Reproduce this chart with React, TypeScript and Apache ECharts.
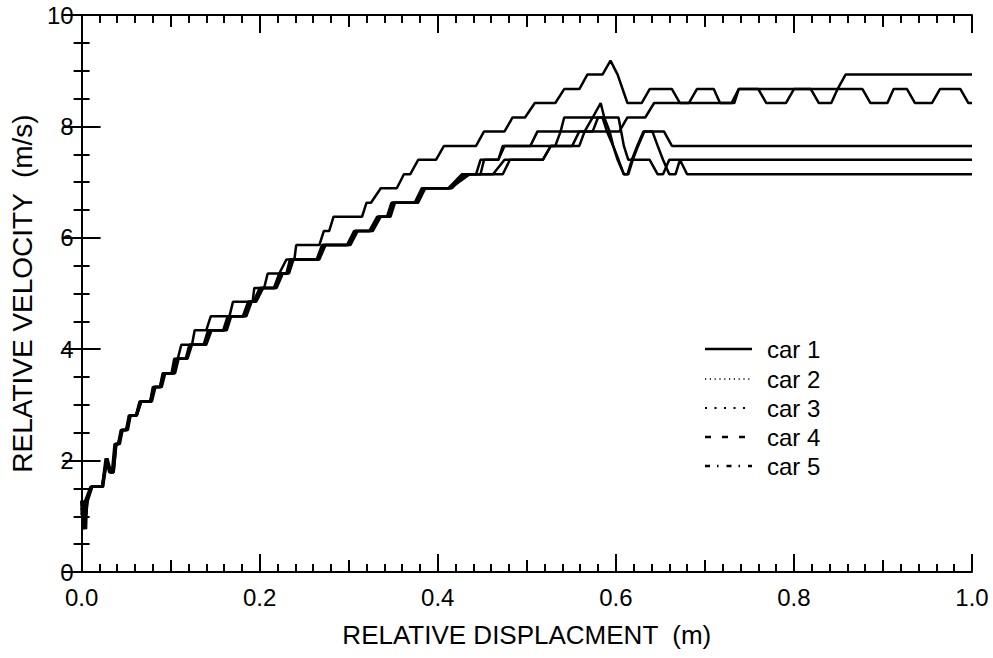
import React, { useEffect, useRef } from "react";
import * as echarts from "echarts";

const FONT = '"Liberation Sans", Arial, Helvetica, sans-serif';

const carNames = ["car 1", "car 2", "car 3", "car 4", "car 5"];
const xTickLabels = ["0.0", "0.2", "0.4", "0.6", "0.8", "1.0"];
const yTickLabels = ["0", "2", "4", "6", "8", "10"];

const car1: number[][] = [
  [0, 1.28], [0.002, 0.77], [0.004, 1.28], [0.010, 1.53], [0.023, 1.53], [0.027, 2.04], [0.031, 1.79], [0.034, 1.79],
  [0.037, 2.30], [0.041, 2.30], [0.044, 2.55], [0.050, 2.55], [0.053, 2.81], [0.061, 2.81], [0.065, 3.06], [0.077, 3.06],
  [0.080, 3.32], [0.088, 3.32], [0.091, 3.57], [0.101, 3.57], [0.104, 3.83], [0.108, 3.83], [0.112, 4.08], [0.124, 4.08],
  [0.127, 4.34], [0.140, 4.34], [0.145, 4.59], [0.166, 4.59], [0.170, 4.85], [0.192, 4.85], [0.194, 5.10], [0.205, 5.10],
  [0.209, 5.36], [0.222, 5.36], [0.230, 5.61], [0.239, 5.61], [0.241, 5.87], [0.267, 5.87], [0.272, 6.12], [0.278, 6.12],
  [0.283, 6.38], [0.315, 6.38], [0.320, 6.63], [0.325, 6.63], [0.336, 6.89], [0.354, 6.89], [0.362, 7.14], [0.369, 7.14],
  [0.378, 7.40], [0.398, 7.40], [0.407, 7.65], [0.443, 7.65], [0.452, 7.91], [0.475, 7.91], [0.484, 8.16], [0.498, 8.16],
  [0.509, 8.42], [0.532, 8.42], [0.542, 8.67], [0.559, 8.67], [0.568, 8.93], [0.585, 8.93], [0.594, 9.18], [0.602, 8.93],
  [0.613, 8.42], [0.629, 8.42], [0.638, 8.67], [0.663, 8.67], [0.672, 8.42], [0.682, 8.42], [0.691, 8.67], [0.710, 8.67],
  [0.717, 8.42], [0.730, 8.42], [0.738, 8.67], [0.760, 8.67], [0.769, 8.42], [0.791, 8.42], [0.800, 8.67], [0.819, 8.67],
  [0.828, 8.42], [0.842, 8.42], [0.849, 8.67], [0.877, 8.67], [0.886, 8.42], [0.905, 8.42], [0.912, 8.67], [0.927, 8.67],
  [0.936, 8.42], [0.955, 8.42], [0.964, 8.67], [0.987, 8.67], [0.996, 8.42], [1.0, 8.42],
];

const car2: number[][] = [
  [0, 1.02], [0.002, 1.28], [0.003, 0.77], [0.005, 1.28], [0.011, 1.53], [0.023, 1.53], [0.028, 2.04], [0.032, 1.79],
  [0.035, 1.79], [0.038, 2.30], [0.041, 2.30], [0.045, 2.55], [0.050, 2.55], [0.054, 2.81], [0.061, 2.81], [0.066, 3.06],
  [0.077, 3.06], [0.081, 3.32], [0.088, 3.32], [0.092, 3.57], [0.103, 3.57], [0.106, 3.83], [0.117, 3.83], [0.121, 4.08],
  [0.137, 4.08], [0.142, 4.34], [0.159, 4.34], [0.164, 4.59], [0.181, 4.59], [0.187, 4.85], [0.193, 4.85], [0.200, 5.10],
  [0.216, 5.10], [0.222, 5.36], [0.230, 5.36], [0.234, 5.61], [0.264, 5.61], [0.270, 5.87], [0.298, 5.87], [0.306, 6.12],
  [0.323, 6.12], [0.332, 6.38], [0.343, 6.38], [0.348, 6.63], [0.374, 6.63], [0.382, 6.89], [0.412, 6.89], [0.427, 7.14],
  [0.462, 7.14], [0.475, 7.40], [0.518, 7.40], [0.527, 7.65], [0.559, 7.65], [0.565, 7.91], [0.574, 8.16], [0.583, 8.42],
  [0.587, 8.16], [0.593, 7.91], [0.597, 7.65], [0.602, 7.40], [0.609, 7.14], [0.613, 7.14], [0.618, 7.40], [0.624, 7.65],
  [0.631, 7.91], [0.654, 7.91], [0.663, 7.65], [1.0, 7.65],
];

const car3: number[][] = [
  [0, 1.28], [0.001, 1.02], [0.003, 1.28], [0.004, 0.90], [0.006, 1.28], [0.011, 1.53], [0.024, 1.53], [0.028, 2.04],
  [0.033, 1.79], [0.036, 1.79], [0.039, 2.30], [0.042, 2.30], [0.046, 2.55], [0.051, 2.55], [0.055, 2.81], [0.062, 2.81],
  [0.067, 3.06], [0.078, 3.06], [0.082, 3.32], [0.089, 3.32], [0.093, 3.57], [0.104, 3.57], [0.108, 3.83], [0.118, 3.83],
  [0.123, 4.08], [0.139, 4.08], [0.144, 4.34], [0.161, 4.34], [0.166, 4.59], [0.183, 4.59], [0.189, 4.85], [0.195, 4.85],
  [0.202, 5.10], [0.218, 5.10], [0.224, 5.36], [0.231, 5.36], [0.236, 5.61], [0.266, 5.61], [0.272, 5.87], [0.300, 5.87],
  [0.308, 6.12], [0.325, 6.12], [0.334, 6.38], [0.345, 6.38], [0.350, 6.63], [0.376, 6.63], [0.384, 6.89], [0.414, 6.89],
  [0.436, 7.14], [0.448, 7.14], [0.452, 7.40], [0.468, 7.40], [0.475, 7.65], [0.532, 7.65], [0.538, 7.91], [0.542, 8.16],
  [0.603, 8.16], [0.606, 7.91], [0.609, 7.65], [0.614, 7.40], [0.638, 7.40], [0.647, 7.14], [0.653, 7.14], [0.660, 7.40],
  [1.0, 7.40],
];

const car4: number[][] = [
  [0, 1.15], [0.002, 0.77], [0.003, 1.28], [0.005, 1.02], [0.007, 1.28], [0.012, 1.53], [0.024, 1.53], [0.029, 2.04],
  [0.033, 1.79], [0.036, 1.79], [0.039, 2.30], [0.043, 2.30], [0.046, 2.55], [0.052, 2.55], [0.055, 2.81], [0.062, 2.81],
  [0.067, 3.06], [0.079, 3.06], [0.083, 3.32], [0.090, 3.32], [0.094, 3.57], [0.105, 3.57], [0.109, 3.83], [0.119, 3.83],
  [0.124, 4.08], [0.140, 4.08], [0.146, 4.34], [0.163, 4.34], [0.168, 4.59], [0.185, 4.59], [0.191, 4.85], [0.196, 4.85],
  [0.204, 5.10], [0.219, 5.10], [0.226, 5.36], [0.233, 5.36], [0.238, 5.61], [0.267, 5.61], [0.274, 5.87], [0.302, 5.87],
  [0.310, 6.12], [0.327, 6.12], [0.336, 6.38], [0.347, 6.38], [0.352, 6.63], [0.378, 6.63], [0.386, 6.89], [0.416, 6.89],
  [0.431, 7.14], [0.473, 7.14], [0.481, 7.40], [0.518, 7.40], [0.527, 7.65], [0.551, 7.65], [0.559, 7.91], [0.574, 7.91],
  [0.580, 8.16], [0.585, 8.16], [0.590, 7.91], [0.597, 7.65], [0.603, 7.40], [0.609, 7.14], [0.614, 7.14], [0.619, 7.40],
  [0.625, 7.65], [0.632, 7.91], [0.641, 7.91], [0.647, 7.65], [0.653, 7.40], [0.660, 7.14], [0.667, 7.14], [0.672, 7.40],
  [0.680, 7.14], [1.0, 7.14],
];

const car5: number[][] = [
  [0, 1.28], [0.001, 0.85], [0.003, 1.20], [0.005, 0.77], [0.006, 1.28], [0.011, 1.53], [0.023, 1.53], [0.028, 2.04],
  [0.032, 1.79], [0.035, 1.79], [0.038, 2.30], [0.042, 2.30], [0.045, 2.55], [0.051, 2.55], [0.054, 2.81], [0.062, 2.81],
  [0.066, 3.06], [0.078, 3.06], [0.082, 3.32], [0.089, 3.32], [0.093, 3.57], [0.104, 3.57], [0.107, 3.83], [0.118, 3.83],
  [0.122, 4.08], [0.138, 4.08], [0.143, 4.34], [0.160, 4.34], [0.165, 4.59], [0.182, 4.59], [0.188, 4.85], [0.194, 4.85],
  [0.201, 5.10], [0.217, 5.10], [0.223, 5.36], [0.231, 5.36], [0.235, 5.61], [0.265, 5.61], [0.271, 5.87], [0.299, 5.87],
  [0.307, 6.12], [0.324, 6.12], [0.333, 6.38], [0.344, 6.38], [0.349, 6.63], [0.375, 6.63], [0.383, 6.89], [0.413, 6.89],
  [0.429, 7.14], [0.443, 7.14], [0.448, 7.40], [0.468, 7.40], [0.473, 7.65], [0.504, 7.65], [0.512, 7.91], [0.604, 7.91],
  [0.613, 8.16], [0.633, 8.16], [0.643, 8.42], [0.733, 8.42], [0.738, 8.67], [0.849, 8.67], [0.858, 8.93], [1.0, 8.93],
];

const carData = [car1, car2, car3, car4, car5];
const legendDash: (number[] | null)[] = [null, [1.2, 3.6], [2, 7.5], [6, 11], [5, 7, 1.5, 8]];
const legendWidth = [2.5, 1.3, 2, 2.5, 2.5];
const legendRows = [349, 379, 408, 437, 466];

export default function App() {
  const ref = useRef<HTMLDivElement>(null);
  useEffect(() => {
    if (!ref.current) return;
    const chart = echarts.init(ref.current, undefined, { renderer: "svg" });
    const black = "#000";
    const lineSt = { color: black, width: 2 };
    const baseX = (pos: string, interval: number, tickLen: number, main: boolean, withLabels: boolean) => ({
      type: "value",
      position: pos,
      min: 0,
      max: 1,
      interval,
      axisLine: { show: main, lineStyle: lineSt },
      axisTick: { show: true, inside: true, length: tickLen, lineStyle: lineSt },
      minorTick: { show: main, splitNumber: 10, length: 8, lineStyle: lineSt },
      splitLine: { show: false },
      minorSplitLine: { show: false },
      axisLabel: {
        show: withLabels,
        color: black,
        fontSize: 24,
        fontFamily: FONT,
        margin: 13,
        formatter: (v: number) => xTickLabels[Math.round(v / 0.2)] ?? "",
      },
    });
    const baseY = (pos: string, withLabels: boolean) => ({
      type: "value",
      position: pos,
      min: 0,
      max: 10,
      interval: 2,
      axisLine: { show: true, lineStyle: lineSt },
      axisTick: { show: true, inside: true, length: 19, lineStyle: lineSt },
      minorTick: { show: true, splitNumber: 4, length: 8, lineStyle: lineSt },
      splitLine: { show: false },
      minorSplitLine: { show: false },
      axisLabel: {
        show: withLabels,
        color: black,
        fontSize: 24,
        fontFamily: FONT,
        margin: 8,
        formatter: (v: number) => yTickLabels[Math.round(v / 2)] ?? "",
      },
    });

    const xMain: any = baseX("bottom", 0.2, 18, true, true);
    xMain.name = "RELATIVE DISPLACMENT  (m)";
    xMain.nameLocation = "middle";
    xMain.nameGap = 50;
    xMain.nameTextStyle = { color: black, fontSize: 26, fontFamily: FONT };
    const yMain: any = baseY("left", true);
    yMain.name = "RELATIVE VELOCITY  (m/s)";
    yMain.nameLocation = "middle";
    yMain.nameGap = 42;
    yMain.nameTextStyle = { color: black, fontSize: 28, fontFamily: FONT };

    const graphics: any[] = [];
    carNames.forEach((n, i) => {
      graphics.push({
        type: "line",
        shape: { x1: 705, y1: legendRows[i], x2: 752, y2: legendRows[i] },
        style: { stroke: black, lineWidth: legendWidth[i], lineDash: legendDash[i] || undefined },
      });
      graphics.push({
        type: "text",
        x: 767,
        y: legendRows[i],
        style: { text: n, fontSize: 24, fontFamily: FONT, fill: black, verticalAlign: "middle", align: "left" },
      });
    });

    chart.setOption({
      animation: false,
      backgroundColor: "#fff",
      grid: { left: 76, right: 21, top: 15, bottom: 86, containLabel: false },
      xAxis: [
        xMain,
        baseX("bottom", 0.1, 12, false, false),
        baseX("top", 0.2, 18, true, false),
        baseX("top", 0.1, 12, false, false),
      ],
      yAxis: [yMain, baseY("right", false)],
      series: carData.map((d, i) => ({
        name: carNames[i],
        type: "line",
        xAxisIndex: 0,
        yAxisIndex: 0,
        data: d,
        symbol: "none",
        lineStyle: { color: black, width: 2.5 },
        z: 2,
      })),
      graphic: graphics,
    });
    return () => chart.dispose();
  }, []);
  return <div ref={ref} style={{ width: 993, height: 658, position: "absolute", left: 0, top: 0 }} />;
}
